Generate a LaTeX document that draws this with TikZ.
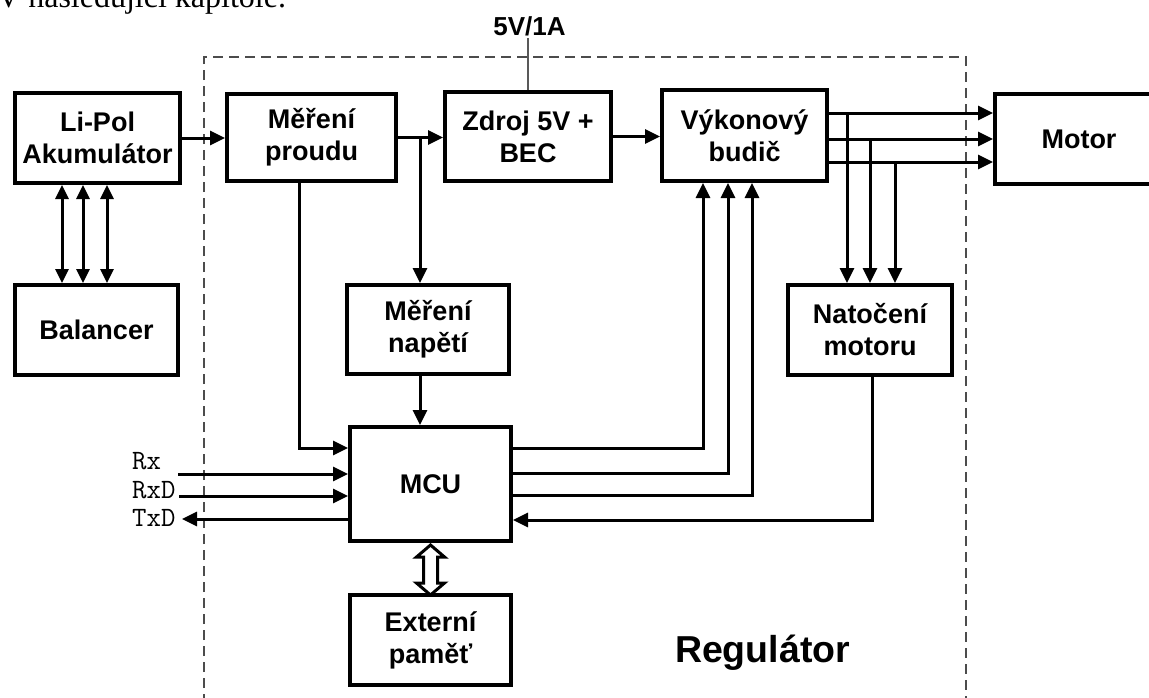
\documentclass[tikz,border=0pt]{standalone}
\usepackage{fontspec}
\setmainfont{Liberation Sans}
\newfontfamily\lserif{Liberation Serif}
\usetikzlibrary{arrows.meta,calc}
\tikzset{
  box/.style={draw, line width=4pt, inner sep=0pt, align=center,
    font=\bfseries\fontsize{27}{32}\selectfont},
  arr/.style={line width=3pt, -{Triangle[length=15pt,width=14pt]}},
  darr/.style={line width=3pt, {Triangle[length=14pt,width=13pt]}-{Triangle[length=14pt,width=13pt]}},
  sig/.style={font=\ttfamily\fontsize{28}{30}\selectfont, inner sep=0pt, anchor=base west},
  regline/.style={line width=1.5pt, black!70, dash pattern=on 10pt off 6pt},
}
\begin{document}
\begin{tikzpicture}[x=1pt,y=-1pt]
\useasboundingbox (0,0) rectangle (1149,697);
\fill[white] (0,0) rectangle (1149,697);

% page text cut at the top
\node[anchor=base west, inner sep=0pt, font=\lserif\fontsize{32}{36}\selectfont] (pagetext) at (-3,7) {V následující kapitole.};

% regulator frame
\draw[regline] (204,720) -- (204,57) -- (966,57) -- (966,720);
\node[anchor=base, inner sep=0pt, font=\bfseries\fontsize{37.5}{40}\selectfont] (reg) at (762.5,662) {Regulátor};

% boxes
\node[box, minimum width=165pt, minimum height=90pt] (lipol) at (97.5,138) {Li-Pol\\Akumulátor};
\node[box, minimum width=169pt, minimum height=87pt] (proud) at (311.5,137.5) {Měření\\proudu};
\node[box, minimum width=166pt, minimum height=89pt] (zdroj) at (528,136.5) {Zdroj 5V +\\BEC};
\node[box, minimum width=165pt, minimum height=91pt] (vykon) at (744.5,135.5) {Výkonový\\budič};
\node[box, minimum width=168pt, minimum height=90pt, text width=168pt] (motor) at (1079,139) {Motor};
\node[box, minimum width=163pt, minimum height=90pt] (balancer) at (96.5,330) {Balancer};
\node[box, minimum width=162pt, minimum height=89pt] (napeti) at (428,329.5) {Měření\\napětí};
\node[box, minimum width=164pt, minimum height=90pt] (natoceni) at (870,330) {Natočení\\motoru};
\node[box, minimum width=161pt, minimum height=114pt] (mcu) at (430.5,484) {MCU};
\node[box, minimum width=161pt, minimum height=90pt] (ext) at (430.5,640) {Externí\\paměť};

% 5V/1A
\node[anchor=base, inner sep=2pt, font=\bfseries\fontsize{26}{28}\selectfont] (v5) at (529.5,35) {5V/1A};
\draw[line width=1.5pt, black!65] (zdroj.north) -- (zdroj.north |- v5.south);

% main chain
\draw[arr] (lipol.east) -- (lipol.east -| proud.west);
\draw[arr] (proud.east) -- (proud.east -| zdroj.west);
\draw[arr] (zdroj.east) -- (zdroj.east -| vykon.west);
\draw[arr] (proud.east -| 420,0) -- (napeti.north -| 420,0);

% battery <-> balancer
\foreach \xx in {62,83,107}
  \draw[darr] (lipol.south -| \xx,0) -- (balancer.north -| \xx,0);

% driver -> motor and branches to position sensing
\coordinate (j1) at (847,113);
\coordinate (j2) at (870,139);
\coordinate (j3) at (895,162);
\foreach \j in {j1,j2,j3} {
  \draw[arr] (vykon.east |- \j) -- (motor.west |- \j);
  \draw[arr] (\j) -- (\j |- natoceni.north);
}

% current measurement -> MCU
\coordinate (p1) at (299,448);
\draw[arr] (proud.south -| p1) |- (mcu.west |- p1);
% voltage -> MCU
\draw[arr] (napeti.south -| 420,0) -- (mcu.north -| 420,0);

% MCU -> driver
\coordinate (o1) at (703,448);
\coordinate (o2) at (728,473);
\coordinate (o3) at (752,495);
\foreach \o in {o1,o2,o3}
  \draw[arr] (mcu.east |- \o) -| (vykon.south -| \o);

% position -> MCU
\coordinate (n1) at (872,520);
\draw[arr] (natoceni.south -| n1) |- (mcu.east |- n1);

% serial signals
\node[sig] (rx) at (132,469) {Rx};
\node[sig] (rxd) at (132,498) {RxD};
\node[sig] (txd) at (132,526) {TxD};
\coordinate (rxs) at (178,474);
\coordinate (rxds) at (179,496);
\coordinate (txde) at (182,519);
\draw[arr] (rxs) -- (rxs -| mcu.west);
\draw[arr] (rxds) -- (rxds -| mcu.west);
\draw[arr] (mcu.west |- txde) -- (txde);

% MCU <-> external memory (hollow double arrow)
\draw[line width=3pt, line join=miter, fill=white]
  ($(mcu.south)+(0,2)$) -- ++(14,12) -- ++(-7,0) -- ++(0,26) -- ++(7,0)
  -- ++(-14,12) -- ++(-14,-12) -- ++(7,0) -- ++(0,-26) -- ++(-7,0) -- cycle;
\end{tikzpicture}
\end{document}
